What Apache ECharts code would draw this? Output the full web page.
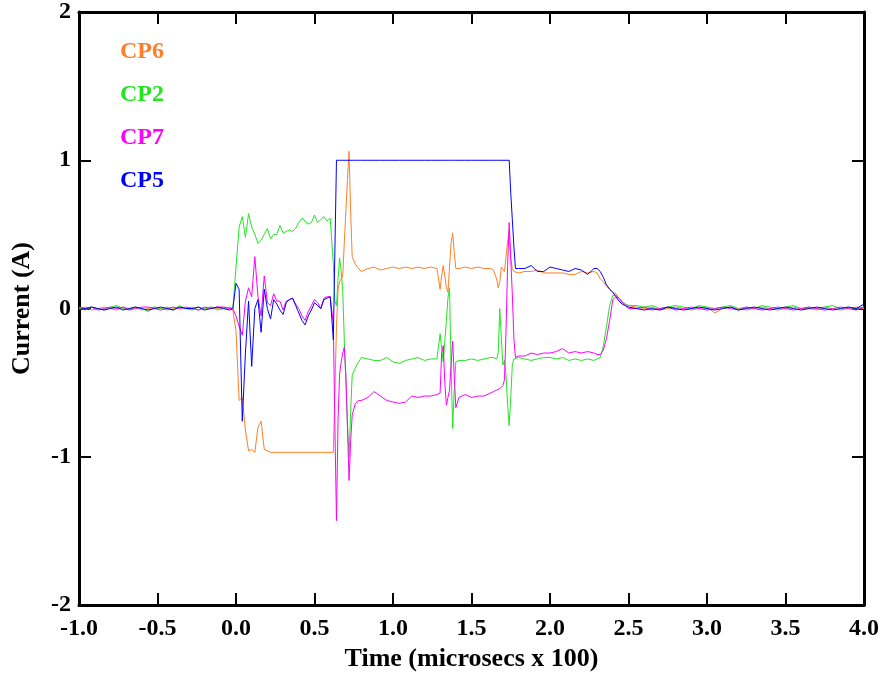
<!DOCTYPE html>
<html>
<head>
<meta charset="utf-8">
<script src="https://cdn.jsdelivr.net/npm/echarts@6/dist/echarts.min.js"></script>
<style>
html,body{margin:0;padding:0;background:#fff;}
#chart{width:883px;height:677px;}
</style>
</head>
<body>
<div id="chart"></div>
<script>
// Time (microsecs x 100)
var time = [
  -1.00,-0.96,-0.92,-0.88,-0.84,-0.80,-0.76,-0.72,-0.68,-0.64,-0.60,-0.56,-0.52,-0.48,-0.44,-0.40,-0.36,-0.32,-0.28,-0.24,-0.20,-0.16,-0.12,-0.08,-0.04,-0.02,
  0.00,0.02,0.04,0.06,0.08,0.10,0.12,0.14,0.16,0.18,0.20,0.22,0.24,0.26,0.28,0.30,0.32,0.34,0.36,0.38,0.40,0.42,0.44,0.46,0.48,0.50,0.52,0.54,0.56,0.58,0.60,0.62,
  0.63,0.64,0.65,0.66,0.67,0.68,0.69,0.70,0.71,0.72,0.73,0.74,0.76,0.78,0.80,
  0.84,0.88,0.92,0.96,1.00,1.04,1.08,1.12,1.16,1.20,1.24,
  1.28,1.30,1.31,1.32,1.33,1.34,1.35,1.36,1.37,1.38,1.39,1.40,1.42,
  1.46,1.50,1.54,1.58,1.62,
  1.64,1.66,1.67,1.68,1.69,1.70,1.71,1.72,1.73,1.74,1.75,1.76,1.77,1.78,1.80,
  1.84,1.88,1.92,1.96,2.00,2.04,2.08,2.12,2.16,2.20,2.24,2.28,
  2.30,2.32,2.34,2.36,2.38,2.40,2.42,2.44,2.46,2.48,2.50,
  2.55,2.60,2.65,2.70,2.75,2.80,2.85,2.90,2.95,3.00,3.05,3.10,3.15,3.20,3.25,3.30,3.35,3.40,3.45,3.50,3.55,3.60,3.65,3.70,3.75,3.80,3.85,3.90,3.95,4.00
];

var cp6 = [
  0.00,0.01,-0.01,0.00,0.01,0.00,-0.01,0.01,0.00,0.01,-0.01,0.00,0.01,0.00,-0.01,0.00,0.01,0.00,0.01,-0.01,0.00,0.01,0.00,0.01,0.00,-0.01,
  -0.15,-0.62,-0.60,-0.82,-0.96,-0.95,-0.97,-0.80,-0.76,-0.95,-0.96,-0.97,-0.97,-0.97,-0.97,-0.97,-0.97,-0.97,-0.97,-0.97,-0.97,-0.97,-0.97,-0.97,-0.97,-0.97,-0.97,-0.97,-0.97,-0.97,-0.97,-0.97,
  -0.55,-0.12,0.13,0.18,0.17,0.22,0.45,0.66,0.87,1.06,0.66,0.35,0.30,0.27,0.25,
  0.27,0.28,0.26,0.27,0.28,0.27,0.28,0.27,0.28,0.27,0.28,
  0.27,0.13,0.22,0.29,0.22,0.14,0.11,0.28,0.44,0.51,0.38,0.27,0.27,
  0.28,0.27,0.28,0.27,0.27,
  0.26,0.20,0.14,0.18,0.28,0.27,0.25,0.35,0.45,0.53,0.34,0.27,0.25,0.25,0.24,
  0.25,0.25,0.26,0.24,0.24,0.24,0.24,0.23,0.23,0.25,0.24,0.25,
  0.24,0.20,0.18,0.15,0.13,0.11,0.10,0.07,0.05,0.03,0.02,
  0.01,0.00,0.01,-0.01,0.00,0.01,0.00,-0.01,0.00,0.01,-0.03,0.00,0.01,0.00,-0.01,0.00,0.01,0.00,-0.01,0.00,0.01,0.00,0.00,-0.01,0.01,0.00,-0.01,0.00,0.01,0.00
];

var cp2 = [
  0.00,-0.01,0.01,0.00,-0.01,0.01,0.02,0.00,-0.01,0.01,0.00,-0.02,0.01,0.00,0.01,-0.01,0.02,0.00,-0.01,0.01,0.00,0.01,-0.01,0.00,0.01,0.00,
  0.28,0.55,0.62,0.48,0.64,0.55,0.50,0.44,0.46,0.50,0.54,0.47,0.50,0.50,0.56,0.51,0.52,0.53,0.52,0.54,0.58,0.61,0.59,0.57,0.58,0.63,0.58,0.60,0.62,0.59,0.61,0.30,
  0.05,0.02,0.20,0.34,0.25,0.12,-0.22,-0.50,-0.78,-1.00,-0.70,-0.45,-0.40,-0.36,-0.33,
  -0.34,-0.35,-0.35,-0.33,-0.36,-0.37,-0.35,-0.34,-0.33,-0.35,-0.34,
  -0.34,-0.17,-0.27,-0.36,-0.22,-0.08,0.07,0.14,-0.39,-0.81,-0.55,-0.36,-0.35,
  -0.35,-0.34,-0.35,-0.34,-0.33,
  -0.33,-0.34,-0.30,0.00,-0.20,-0.38,-0.35,-0.45,-0.65,-0.79,-0.60,-0.38,-0.34,-0.35,-0.33,
  -0.34,-0.35,-0.34,-0.33,-0.33,-0.34,-0.33,-0.35,-0.34,-0.35,-0.34,-0.35,
  -0.34,-0.33,-0.25,-0.12,0.02,0.09,0.09,0.07,0.04,0.03,0.02,
  0.02,0.01,0.02,0.00,0.01,0.02,0.01,0.00,0.02,0.01,0.00,0.01,0.02,0.00,0.01,0.00,0.02,0.01,0.00,0.01,0.02,0.00,0.01,0.00,0.01,0.02,0.00,0.01,0.00,0.01
];

var cp7 = [
  0.01,0.00,0.01,-0.01,0.00,0.01,0.00,0.01,-0.01,0.00,0.01,0.01,0.00,-0.01,0.00,0.01,0.00,0.01,0.00,-0.01,0.01,0.00,0.01,0.01,0.00,0.00,
  -0.05,-0.12,-0.18,0.05,0.14,0.08,0.35,0.08,-0.05,0.22,0.04,0.02,0.10,0.05,0.05,-0.01,0.05,0.06,0.07,0.03,0.00,-0.05,-0.08,-0.02,0.02,0.06,0.04,0.00,0.07,0.08,0.08,-0.10,
  -0.80,-1.43,-0.75,-0.44,-0.36,-0.30,-0.26,-0.45,-0.80,-1.16,-0.90,-0.72,-0.64,-0.62,-0.62,
  -0.60,-0.56,-0.59,-0.62,-0.63,-0.64,-0.63,-0.59,-0.60,-0.59,-0.59,
  -0.58,-0.57,-0.30,-0.25,-0.50,-0.65,-0.60,-0.55,-0.38,-0.22,-0.45,-0.67,-0.60,
  -0.58,-0.60,-0.59,-0.59,-0.57,
  -0.56,-0.55,-0.55,-0.54,-0.55,-0.52,-0.48,-0.14,0.29,0.58,0.33,0.10,-0.20,-0.33,-0.32,
  -0.32,-0.30,-0.31,-0.30,-0.30,-0.29,-0.27,-0.30,-0.29,-0.30,-0.29,-0.30,
  -0.31,-0.31,-0.28,-0.20,-0.08,0.06,0.08,0.07,0.04,0.02,0.00,
  0.00,0.01,-0.01,0.00,0.01,-0.01,0.00,0.01,0.00,-0.01,0.00,0.01,0.00,-0.01,0.01,0.00,-0.01,0.00,0.01,0.00,-0.01,0.00,0.01,0.00,-0.01,0.00,0.01,0.00,-0.01,0.01
];

var cp5 = [
  -0.01,0.00,0.01,0.00,-0.01,0.00,0.01,-0.01,0.00,0.01,0.00,-0.01,0.00,0.01,0.00,-0.01,0.01,0.00,0.00,0.01,-0.01,0.00,0.01,0.00,-0.01,0.00,
  0.17,0.13,-0.76,-0.30,0.05,-0.39,0.00,0.06,-0.16,0.13,0.00,-0.07,0.06,0.03,-0.01,-0.04,0.04,0.06,0.07,0.02,-0.03,-0.08,-0.11,-0.05,-0.01,0.04,0.02,0.00,0.06,0.07,0.08,-0.21,
  0.40,1.00,1.00,1.00,1.00,1.00,1.00,1.00,1.00,1.00,1.00,1.00,1.00,1.00,1.00,
  1.00,1.00,1.00,1.00,1.00,1.00,1.00,1.00,1.00,1.00,1.00,
  1.00,1.00,1.00,1.00,1.00,1.00,1.00,1.00,1.00,1.00,1.00,1.00,1.00,
  1.00,1.00,1.00,1.00,1.00,
  1.00,1.00,1.00,1.00,1.00,1.00,1.00,1.00,1.00,1.00,0.78,0.60,0.42,0.27,0.27,
  0.27,0.29,0.25,0.25,0.28,0.27,0.26,0.25,0.27,0.26,0.23,0.27,
  0.27,0.25,0.21,0.16,0.13,0.11,0.08,0.05,0.03,0.02,0.01,
  0.00,-0.01,0.00,-0.01,0.01,0.00,-0.01,0.00,0.01,0.00,-0.01,0.00,0.01,-0.01,0.00,0.01,0.00,-0.01,0.00,0.01,0.00,-0.01,0.00,0.01,0.00,-0.01,0.00,0.01,0.00,0.03
];

var seriesNames = ['CP6', 'CP2', 'CP7', 'CP5'];
var seriesColors = ['#ff7f27', '#22e622', '#ff00ff', '#0000ff'];
var seriesValues = [cp6, cp2, cp7, cp5];
var xTicks = {min: -1, max: 4, interval: 0.5};
var yTicks = {min: -2, max: 2, interval: 1};

var FONT = 'Liberation Serif';
function pairs(vals) {
  var out = [];
  for (var i = 0; i < time.length; i++) out.push([time[i], vals[i]]);
  return out;
}
var axisLineStyle = {show: true, onZero: false, lineStyle: {color: '#000', width: 3}};
var tickStyle = {show: true, inside: true, length: 12, lineStyle: {color: '#000', width: 2}};
var labelStyle = {fontFamily: FONT, fontWeight: 'bold', fontSize: 24, color: '#000'};
var nameStyle = {fontFamily: FONT, fontWeight: 'bold', fontSize: 26, color: '#000'};

var chart = echarts.init(document.getElementById('chart'), null, {renderer: 'canvas'});
chart.setOption({
  animation: false,
  backgroundColor: '#fff',
  grid: {left: 79, right: 19, top: 10, bottom: 70, containLabel: false},
  legend: {
    orient: 'vertical', left: 110, top: 35, itemGap: 19,
    itemWidth: 0, itemHeight: 0, selectedMode: false,
    textStyle: {fontFamily: FONT, fontWeight: 'bold', fontSize: 24},
    data: seriesNames.map(function (n, i) {
      return {name: n, icon: 'rect', itemStyle: {opacity: 0}, lineStyle: {opacity: 0}, textStyle: {color: seriesColors[i]}};
    })
  },
  xAxis: [{
    type: 'value', position: 'bottom', min: xTicks.min, max: xTicks.max, interval: xTicks.interval,
    axisLine: axisLineStyle, axisTick: tickStyle, splitLine: {show: false},
    axisLabel: Object.assign({margin: 12, formatter: function (v) { return v.toFixed(1); }}, labelStyle),
    name: 'Time (microsecs x 100)', nameLocation: 'middle', nameGap: 39,
    nameTextStyle: nameStyle
  }, {
    type: 'value', position: 'top', min: xTicks.min, max: xTicks.max, interval: xTicks.interval,
    axisLine: axisLineStyle, axisTick: tickStyle, splitLine: {show: false}, axisLabel: {show: false}
  }],
  yAxis: [{
    type: 'value', position: 'left', min: yTicks.min, max: yTicks.max, interval: yTicks.interval,
    axisLine: axisLineStyle, axisTick: tickStyle, splitLine: {show: false},
    axisLabel: Object.assign({margin: 8}, labelStyle),
    name: 'Current (A)', nameLocation: 'middle', nameGap: 44,
    nameTextStyle: nameStyle
  }, {
    type: 'value', position: 'right', min: yTicks.min, max: yTicks.max, interval: yTicks.interval,
    axisLine: axisLineStyle, axisTick: tickStyle, splitLine: {show: false}, axisLabel: {show: false}
  }],
  series: seriesNames.map(function (n, i) {
    return {
      name: n, type: 'line', data: pairs(seriesValues[i]),
      xAxisIndex: 0, yAxisIndex: 0,
      showSymbol: false, symbol: 'none', smooth: false,
      lineStyle: {color: seriesColors[i], width: 1},
      itemStyle: {color: seriesColors[i]}
    };
  })
});
</script>
</body>
</html>
